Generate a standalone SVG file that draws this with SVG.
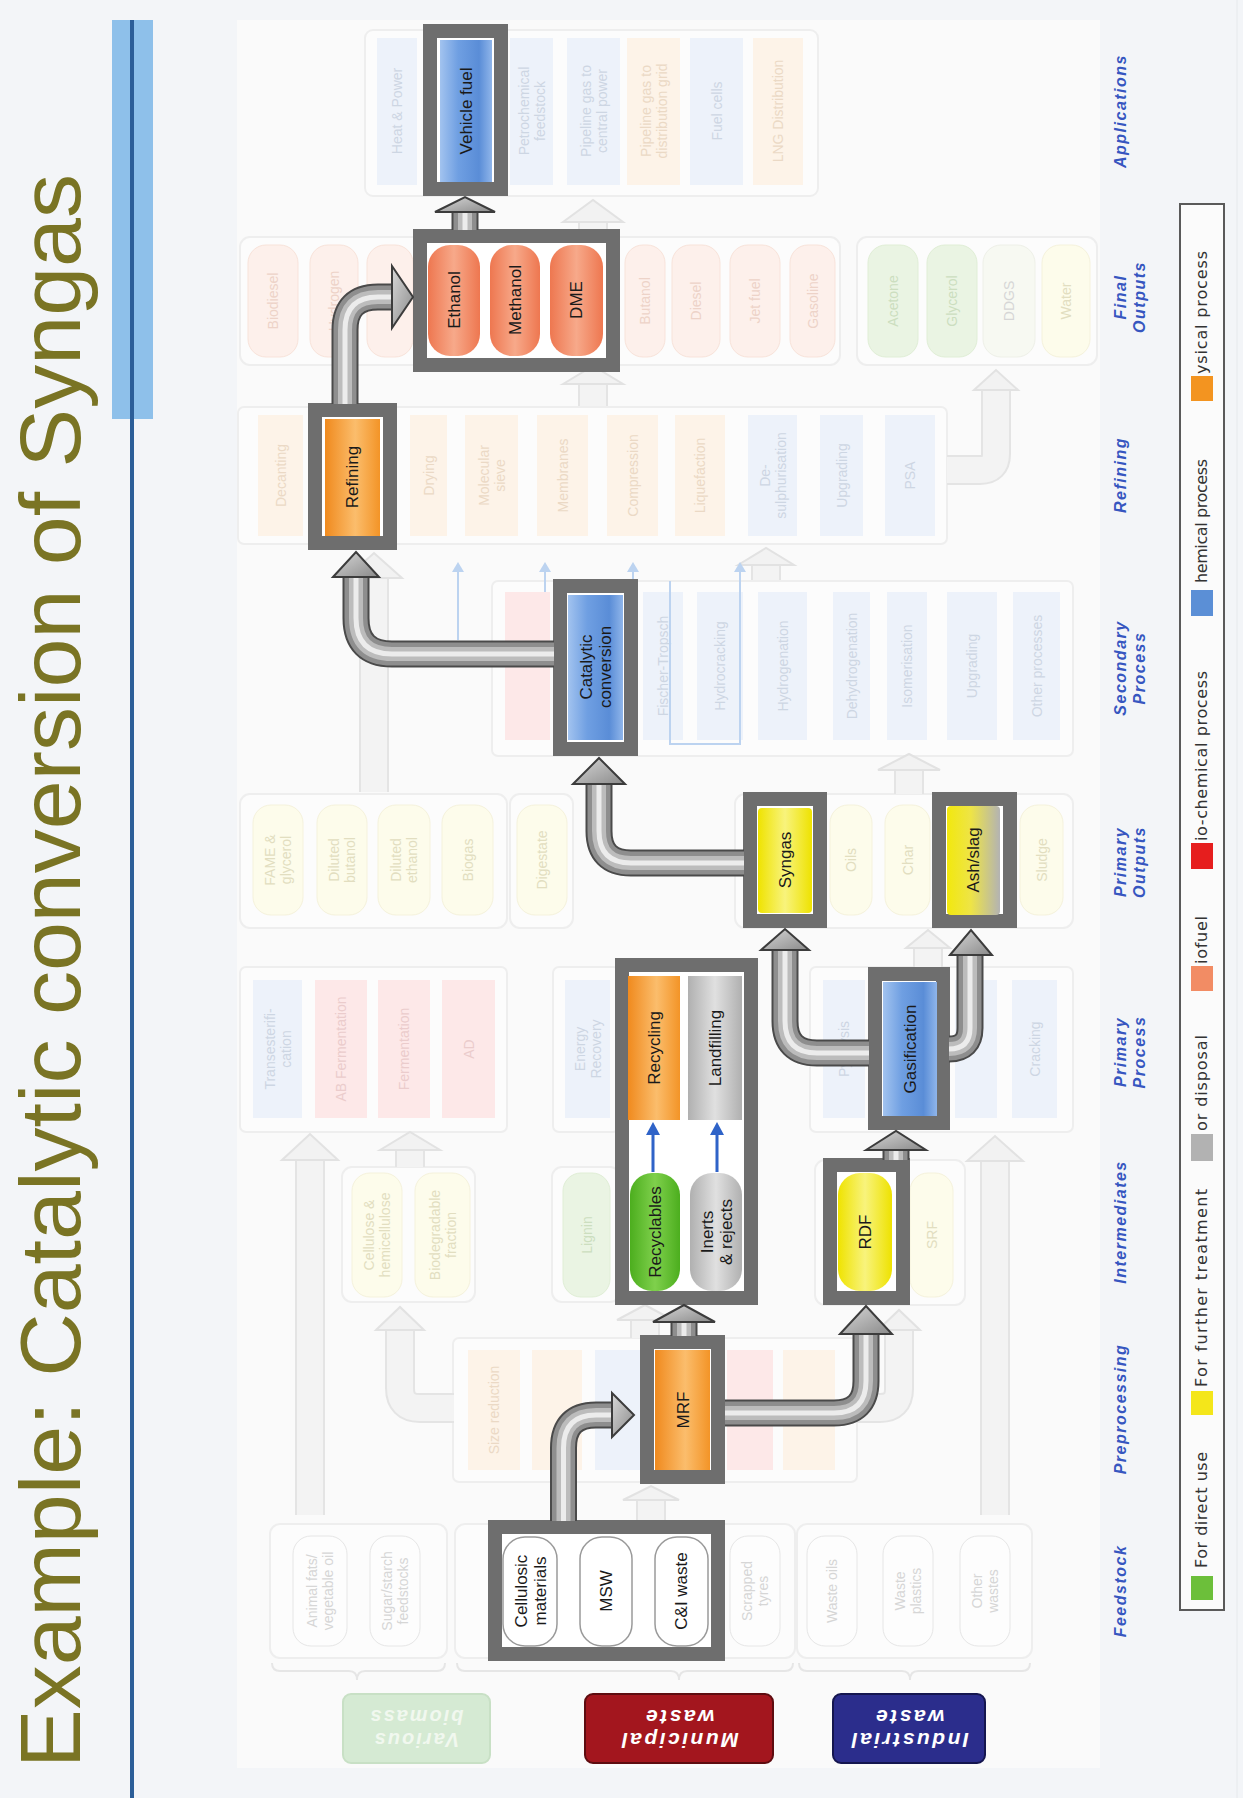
<svg xmlns="http://www.w3.org/2000/svg" width="1243" height="1798" viewBox="0 0 1243 1798">
<defs>
<style>
.frame{fill:#fff;stroke:#6e6e6e;stroke-width:14}
.hl{font-family:"Liberation Sans",Arial,sans-serif;font-size:17px;fill:#1a1a1a;text-anchor:middle}
.ft{font-family:"Liberation Sans",Arial,sans-serif;font-size:14px;text-anchor:middle}
.hdr{font-family:"Liberation Sans",Arial,sans-serif;font-size:16px;font-weight:bold;font-style:italic;fill:#3656c0;letter-spacing:1.5px;text-anchor:middle}
.lg{font-family:"DejaVu Sans",sans-serif;font-size:16px;fill:#333}
.ff{fill:#fcfcfc;stroke:#eeeeee;stroke-width:2}
.fo{fill:#fdf3e8}.fr{fill:#fde8e8}.fb{fill:#edf2fa}
.fy{fill:#fdfceb;stroke:#f5f2dc}.fs{fill:#fdf0eb;stroke:#f8e3da}.fg{fill:#eaf4e3;stroke:#e0eed6}
.fw{fill:#fdfdfd;stroke:#e6e6e6}.fp{fill:#f7f9f2;stroke:#eef0e8}
.to{fill:#ebd9c5}.tr{fill:#ebcccc}.tb{fill:#cdd6e3}.ty{fill:#e2dec0}.ts{fill:#edd3c8}.tg{fill:#ccdebf}.tw{fill:#d6d6d6}
.t0{fill:none;stroke:#4a4a4a;stroke-width:27}
.t1{fill:none;stroke:#8e8e8e;stroke-width:23}
.t2{fill:none;stroke:#bcbcbc;stroke-width:14}
.t3{fill:none;stroke:#ececec;stroke-width:5}
.ah{fill:url(#gHead);stroke:#3c3c3c;stroke-width:2;stroke-linejoin:miter}
.f0{fill:none;stroke:#e4e4e4;stroke-width:30}
.f1{fill:none;stroke:#f3f3f3;stroke-width:26}
.fh{fill:#f2f2f2;stroke:#e2e2e2;stroke-width:2}
.bl{stroke:#2f63c8;stroke-width:3;fill:none}
.fbl{stroke:#bcd3f0;stroke-width:2;fill:none}
</style>
<linearGradient id="gBlue" x1="0" y1="0" x2="1" y2="0"><stop offset="0" stop-color="#a2c3ef"/><stop offset="0.35" stop-color="#6f9fe2"/><stop offset="0.75" stop-color="#5a8dd7"/><stop offset="1" stop-color="#8fb5ea"/></linearGradient>
<linearGradient id="gOrange" x1="0" y1="0" x2="1" y2="0"><stop offset="0" stop-color="#f08a1e"/><stop offset="0.55" stop-color="#fbbd6c"/><stop offset="1" stop-color="#f39427"/></linearGradient>
<linearGradient id="gSalmon" x1="0" y1="0" x2="1" y2="0"><stop offset="0" stop-color="#ee7750"/><stop offset="0.5" stop-color="#f7a98a"/><stop offset="1" stop-color="#ee7750"/></linearGradient>
<linearGradient id="gYellow" x1="0" y1="0" x2="1" y2="0"><stop offset="0" stop-color="#efe300"/><stop offset="0.5" stop-color="#f8f37c"/><stop offset="1" stop-color="#eee200"/></linearGradient>
<linearGradient id="gAsh" x1="0" y1="0" x2="1" y2="0"><stop offset="0" stop-color="#f2e80e"/><stop offset="0.45" stop-color="#eee446"/><stop offset="1" stop-color="#b3b3b3"/></linearGradient>
<linearGradient id="gGray" x1="0" y1="0" x2="1" y2="0"><stop offset="0" stop-color="#b0b0b0"/><stop offset="0.5" stop-color="#e0e0e0"/><stop offset="1" stop-color="#b0b0b0"/></linearGradient>
<linearGradient id="gGreen" x1="0" y1="0" x2="1" y2="0"><stop offset="0" stop-color="#4cae1e"/><stop offset="0.5" stop-color="#7fd04c"/><stop offset="1" stop-color="#4cae1e"/></linearGradient>
<linearGradient id="gHead" x1="0" y1="0" x2="1" y2="1"><stop offset="0" stop-color="#d8d8d8"/><stop offset="1" stop-color="#8a8a8a"/></linearGradient>
<!-- tube centre lines -->
<path id="p1" d="M563.5 1521 V1448 Q563.5 1415 596 1415 H614"/>
<path id="p2" d="M684 1336 V1319"/>
<path id="p3" d="M725 1413 H834 Q866 1413 866 1381 V1332"/>
<path id="p4" d="M896 1160 V1147"/>
<path id="p5" d="M869 1053 H817 Q785 1053 785 1021 V948"/>
<path id="p6" d="M949 1049 Q970 1049 970 1028 V952"/>
<path id="p7" d="M744 863 H631 Q599 863 599 831 V782"/>
<path id="p8" d="M554 654 H392 Q356 654 356 618 V575"/>
<path id="p9" d="M345 404 V330 Q345 297 378 297 H394"/>
<path id="p10" d="M465 230 V210"/>
</defs>

<!-- page -->
<rect x="0" y="0" width="1243" height="1798" fill="#f3f5f8"/>
<rect x="237" y="20" width="863" height="1748" fill="#fafafa"/>
<line x1="1237" y1="0" x2="1237" y2="1798" stroke="#e6e9ec" stroke-width="1"/>

<!-- title and rule -->
<text transform="translate(80,1768) rotate(-90)" font-family="'Liberation Sans',Arial,sans-serif" font-size="86" fill="#7a7424" textLength="1594" lengthAdjust="spacingAndGlyphs">Example: Catalytic conversion of Syngas</text>
<rect x="112" y="20" width="41" height="399" fill="#8ec0ea"/>
<rect x="130" y="20" width="4" height="1778" fill="#2c5e98"/>

<!-- stage headers -->
<g id="headers">
<text class="hdr" transform="translate(1126,111) rotate(-90)">Applications</text>
<text class="hdr" transform="translate(1126,297) rotate(-90)"><tspan x="0" y="0">Final</tspan><tspan x="0" y="19">Outputs</tspan></text>
<text class="hdr" transform="translate(1126,475) rotate(-90)">Refining</text>
<text class="hdr" transform="translate(1126,668) rotate(-90)"><tspan x="0" y="0">Secondary</tspan><tspan x="0" y="19">Process</tspan></text>
<text class="hdr" transform="translate(1126,862) rotate(-90)"><tspan x="0" y="0">Primary</tspan><tspan x="0" y="19">Outputs</tspan></text>
<text class="hdr" transform="translate(1126,1052) rotate(-90)"><tspan x="0" y="0">Primary</tspan><tspan x="0" y="19">Process</tspan></text>
<text class="hdr" transform="translate(1126,1222) rotate(-90)">Intermediates</text>
<text class="hdr" transform="translate(1126,1409) rotate(-90)">Preprocessing</text>
<text class="hdr" transform="translate(1126,1591) rotate(-90)">Feedstock</text>
</g>

<!-- legend -->
<g id="legend">
<rect x="1180" y="204" width="44" height="1406" fill="#fbfbfb" stroke="#5a5a5a" stroke-width="2"/>
<text class="lg" transform="translate(1207,1568) rotate(-90)" textLength="116">For direct use</text>
<text class="lg" transform="translate(1207,1387) rotate(-90)" textLength="198">For further treatment</text>
<text class="lg" transform="translate(1207,1131) rotate(-90)" textLength="96">or disposal</text>
<text class="lg" transform="translate(1207,964) rotate(-90)" textLength="48">iofuel</text>
<text class="lg" transform="translate(1207,841) rotate(-90)" textLength="170">io-chemical process</text>
<text class="lg" transform="translate(1207,583) rotate(-90)" textLength="124">hemical process</text>
<text class="lg" transform="translate(1207,374) rotate(-90)" textLength="123">ysical process</text>
<rect x="1191" y="1576" width="22" height="24" fill="#6cbf3a"/>
<rect x="1191" y="1391" width="22" height="24" fill="#f4e61a"/>
<rect x="1191" y="1134" width="22" height="27" fill="#b2b2b2"/>
<rect x="1191" y="966" width="22" height="25" fill="#f28c64"/>
<rect x="1191" y="843" width="22" height="26" fill="#e61e1e"/>
<rect x="1191" y="590" width="22" height="26" fill="#5b8fd6"/>
<rect x="1191" y="376" width="22" height="25" fill="#f39420"/>
</g>

<!-- feedstock categories -->
<g id="cat-biomass">
<rect x="343" y="1694" width="147" height="69" rx="8" fill="#d5ead3" stroke="#c8e0c5" stroke-width="2"/>
<text transform="translate(416,1728) rotate(180)" font-family="'Liberation Sans',Arial,sans-serif" font-size="20" font-weight="bold" font-style="italic" fill="#f1f8ef" text-anchor="middle" letter-spacing="2"><tspan x="0" y="-5">Various</tspan><tspan x="0" y="18">biomass</tspan></text>
</g>
<g id="cat-municipal">
<rect x="585" y="1694" width="188" height="69" rx="8" fill="#a3161e" stroke="#5e0c10" stroke-width="2"/>
<text transform="translate(679,1728) rotate(180)" font-family="'Liberation Sans',Arial,sans-serif" font-size="21" font-weight="bold" font-style="italic" fill="#ffffff" text-anchor="middle" letter-spacing="2.5"><tspan x="0" y="-5">Municipal</tspan><tspan x="0" y="18">waste</tspan></text>
</g>
<g id="cat-industrial">
<rect x="833" y="1694" width="152" height="69" rx="8" fill="#2b2d8c" stroke="#15164f" stroke-width="2"/>
<text transform="translate(909,1728) rotate(180)" font-family="'Liberation Sans',Arial,sans-serif" font-size="21" font-weight="bold" font-style="italic" fill="#ffffff" text-anchor="middle" letter-spacing="2.5"><tspan x="0" y="-5">Industrial</tspan><tspan x="0" y="18">waste</tspan></text>
</g>
<g id="braces" fill="none" stroke="#e6e6e6" stroke-width="2">
<path d="M272 1663 Q272 1671 280 1671 H349 Q357 1671 357 1680 Q357 1671 365 1671 H437 Q445 1671 445 1663"/>
<path d="M457 1663 Q457 1671 465 1671 H671 Q679 1671 679 1680 Q679 1671 687 1671 H785 Q793 1671 793 1663"/>
<path d="M799 1663 Q799 1671 807 1671 H902 Q910 1671 910 1680 Q910 1671 918 1671 H1022 Q1030 1671 1030 1663"/>
</g>

<!-- background pathway (faded) -->
<g id="faded">
<!-- frames -->
<rect class="ff" x="365" y="30" width="453" height="166" rx="8"/>
<rect class="ff" x="240" y="237" width="600" height="128" rx="10"/>
<rect class="ff" x="857" y="237" width="240" height="128" rx="10"/>
<rect class="ff" x="238" y="407" width="709" height="137" rx="6"/>
<rect class="ff" x="492" y="581" width="581" height="175" rx="6"/>
<rect class="ff" x="240" y="794" width="267" height="134" rx="10"/>
<rect class="ff" x="510" y="794" width="63" height="134" rx="10"/>
<rect class="ff" x="735" y="794" width="338" height="134" rx="10"/>
<rect class="ff" x="240" y="967" width="267" height="165" rx="6"/>
<rect class="ff" x="553" y="967" width="66" height="165" rx="6"/>
<rect class="ff" x="810" y="967" width="263" height="165" rx="6"/>
<rect class="ff" x="342" y="1167" width="133" height="135" rx="10"/>
<rect class="ff" x="552" y="1167" width="68" height="135" rx="10"/>
<rect class="ff" x="815" y="1160" width="150" height="145" rx="10"/>
<rect class="ff" x="453" y="1338" width="404" height="144" rx="6"/>
<rect class="ff" x="270" y="1524" width="177" height="134" rx="10"/>
<rect class="ff" x="455" y="1524" width="340" height="134" rx="10"/>
<rect class="ff" x="797" y="1524" width="235" height="134" rx="10"/>

<!-- applications -->
<rect class="fb" x="377" y="38" width="40" height="147"/>
<text class="ft tb" transform="translate(397,111) rotate(-90)" y="5">Heat &amp; Power</text>
<rect class="fb" x="510" y="38" width="43" height="147"/>
<text class="ft tb" transform="translate(531.5,111) rotate(-90)"><tspan x="0" y="-3">Petrochemical</tspan><tspan x="0" y="13">feedstock</tspan></text>
<rect class="fb" x="567" y="38" width="53" height="147"/>
<text class="ft tb" transform="translate(593.5,111) rotate(-90)"><tspan x="0" y="-3">Pipeline gas to</tspan><tspan x="0" y="13">central power</tspan></text>
<rect class="fo" x="627" y="38" width="53" height="147"/>
<text class="ft to" transform="translate(653.5,111) rotate(-90)"><tspan x="0" y="-3">Pipeline gas to</tspan><tspan x="0" y="13">distribution grid</tspan></text>
<rect class="fb" x="690" y="38" width="53" height="147"/>
<text class="ft tb" transform="translate(716.5,111) rotate(-90)" y="5">Fuel cells</text>
<rect class="fo" x="753" y="38" width="50" height="147"/>
<text class="ft to" transform="translate(778,111) rotate(-90)" y="5">LNG Distribution</text>

<!-- final outputs -->
<rect class="fs" x="248" y="245" width="50" height="112" rx="18"/>
<text class="ft ts" transform="translate(273,301) rotate(-90)" y="5">Biodiesel</text>
<rect class="fs" x="310" y="245" width="48" height="112" rx="18"/>
<text class="ft ts" transform="translate(334,301) rotate(-90)" y="5">Hydrogen</text>
<rect class="fs" x="367" y="245" width="46" height="112" rx="18"/>
<rect class="fs" x="625" y="245" width="40" height="112" rx="18"/>
<text class="ft ts" transform="translate(645,301) rotate(-90)" y="5">Butanol</text>
<rect class="fs" x="672" y="245" width="48" height="112" rx="18"/>
<text class="ft ts" transform="translate(696,301) rotate(-90)" y="5">Diesel</text>
<rect class="fs" x="730" y="245" width="50" height="112" rx="18"/>
<text class="ft ts" transform="translate(755,301) rotate(-90)" y="5">Jet fuel</text>
<rect class="fs" x="790" y="245" width="45" height="112" rx="18"/>
<text class="ft ts" transform="translate(812.5,301) rotate(-90)" y="5">Gasoline</text>
<rect class="fg" x="868" y="245" width="50" height="112" rx="18"/>
<text class="ft tg" transform="translate(893,301) rotate(-90)" y="5">Acetone</text>
<rect class="fg" x="927" y="245" width="50" height="112" rx="18"/>
<text class="ft tg" transform="translate(952,301) rotate(-90)" y="5">Glycerol</text>
<rect class="fp" x="983" y="245" width="52" height="112" rx="18"/>
<text class="ft tw" transform="translate(1009,301) rotate(-90)" y="5">DDGS</text>
<rect class="fy" x="1042" y="245" width="48" height="112" rx="18"/>
<text class="ft ty" transform="translate(1066,301) rotate(-90)" y="5">Water</text>

<!-- refining -->
<rect class="fo" x="258" y="415" width="45" height="121"/>
<text class="ft to" transform="translate(280.5,475.5) rotate(-90)" y="5">Decanting</text>
<rect class="fo" x="410" y="415" width="37" height="121"/>
<text class="ft to" transform="translate(428.5,475.5) rotate(-90)" y="5">Drying</text>
<rect class="fo" x="465" y="415" width="53" height="121"/>
<text class="ft to" transform="translate(491.5,475.5) rotate(-90)"><tspan x="0" y="-3">Molecular</tspan><tspan x="0" y="13">sieve</tspan></text>
<rect class="fo" x="537" y="415" width="51" height="121"/>
<text class="ft to" transform="translate(562.5,475.5) rotate(-90)" y="5">Membranes</text>
<rect class="fo" x="607" y="415" width="51" height="121"/>
<text class="ft to" transform="translate(632.5,475.5) rotate(-90)" y="5">Compression</text>
<rect class="fo" x="675" y="415" width="50" height="121"/>
<text class="ft to" transform="translate(700,475.5) rotate(-90)" y="5">Liquefaction</text>
<rect class="fb" x="748" y="415" width="49" height="121"/>
<text class="ft tb" transform="translate(772.5,475.5) rotate(-90)"><tspan x="0" y="-3">De-</tspan><tspan x="0" y="13">sulphurisation</tspan></text>
<rect class="fb" x="820" y="415" width="43" height="121"/>
<text class="ft tb" transform="translate(841.5,475.5) rotate(-90)" y="5">Upgrading</text>
<rect class="fb" x="885" y="415" width="50" height="121"/>
<text class="ft tb" transform="translate(910,475.5) rotate(-90)" y="5">PSA</text>

<!-- secondary process -->
<rect class="fr" x="505" y="592" width="45" height="148"/>
<rect class="fb" x="643" y="592" width="40" height="148"/>
<text class="ft tb" transform="translate(663,666) rotate(-90)" y="5">Fischer-Tropsch</text>
<rect class="fb" x="697" y="592" width="46" height="148"/>
<text class="ft tb" transform="translate(720,666) rotate(-90)" y="5">Hydrocracking</text>
<rect class="fb" x="758" y="592" width="49" height="148"/>
<text class="ft tb" transform="translate(782.5,666) rotate(-90)" y="5">Hydrogenation</text>
<rect class="fb" x="833" y="592" width="37" height="148"/>
<text class="ft tb" transform="translate(851.5,666) rotate(-90)" y="5">Dehydrogenation</text>
<rect class="fb" x="887" y="592" width="40" height="148"/>
<text class="ft tb" transform="translate(907,666) rotate(-90)" y="5">Isomerisation</text>
<rect class="fb" x="947" y="592" width="50" height="148"/>
<text class="ft tb" transform="translate(972,666) rotate(-90)" y="5">Upgrading</text>
<rect class="fb" x="1013" y="592" width="47" height="148"/>
<text class="ft tb" transform="translate(1036.5,666) rotate(-90)" y="5">Other processes</text>

<!-- primary outputs -->
<rect class="fy" x="253" y="805" width="50" height="110" rx="18"/>
<text class="ft ty" transform="translate(278,860) rotate(-90)"><tspan x="0" y="-3">FAME &amp;</tspan><tspan x="0" y="13">glycerol</tspan></text>
<rect class="fy" x="317" y="805" width="50" height="110" rx="18"/>
<text class="ft ty" transform="translate(342,860) rotate(-90)"><tspan x="0" y="-3">Diluted</tspan><tspan x="0" y="13">butanol</tspan></text>
<rect class="fy" x="378" y="805" width="52" height="110" rx="18"/>
<text class="ft ty" transform="translate(404,860) rotate(-90)"><tspan x="0" y="-3">Diluted</tspan><tspan x="0" y="13">ethanol</tspan></text>
<rect class="fy" x="442" y="805" width="51" height="110" rx="18"/>
<text class="ft ty" transform="translate(467.5,860) rotate(-90)" y="5">Biogas</text>
<rect class="fy" x="517" y="805" width="50" height="110" rx="18"/>
<text class="ft ty" transform="translate(542,860) rotate(-90)" y="5">Digestate</text>
<rect class="fy" x="830" y="805" width="42" height="110" rx="18"/>
<text class="ft ty" transform="translate(851,860) rotate(-90)" y="5">Oils</text>
<rect class="fy" x="885" y="805" width="45" height="110" rx="18"/>
<text class="ft ty" transform="translate(907.5,860) rotate(-90)" y="5">Char</text>
<rect class="fy" x="1020" y="805" width="43" height="110" rx="18"/>
<text class="ft ty" transform="translate(1041.5,860) rotate(-90)" y="5">Sludge</text>

<!-- primary process -->
<rect class="fb" x="253" y="980" width="49" height="138"/>
<text class="ft tb" transform="translate(277.5,1049) rotate(-90)"><tspan x="0" y="-3">Transesterifi-</tspan><tspan x="0" y="13">cation</tspan></text>
<rect class="fr" x="315" y="980" width="52" height="138"/>
<text class="ft tr" transform="translate(341,1049) rotate(-90)" y="5">AB Fermentation</text>
<rect class="fr" x="378" y="980" width="52" height="138"/>
<text class="ft tr" transform="translate(404,1049) rotate(-90)" y="5">Fermentation</text>
<rect class="fr" x="442" y="980" width="53" height="138"/>
<text class="ft tr" transform="translate(468.5,1049) rotate(-90)" y="5">AD</text>
<rect class="fb" x="565" y="980" width="45" height="138"/>
<text class="ft tb" transform="translate(587.5,1049) rotate(-90)"><tspan x="0" y="-3">Energy</tspan><tspan x="0" y="13">Recovery</tspan></text>
<rect class="fb" x="823" y="980" width="42" height="138"/>
<text class="ft tb" transform="translate(844,1049) rotate(-90)" y="5">Pyrolysis</text>
<rect class="fb" x="955" y="980" width="42" height="138"/>
<rect class="fb" x="1012" y="980" width="45" height="138"/>
<text class="ft tb" transform="translate(1034.5,1049) rotate(-90)" y="5">Cracking</text>

<!-- intermediates -->
<rect class="fy" x="352" y="1173" width="50" height="124" rx="18"/>
<text class="ft ty" transform="translate(377,1235) rotate(-90)"><tspan x="0" y="-3">Cellulose &amp;</tspan><tspan x="0" y="13">hemicellulose</tspan></text>
<rect class="fy" x="415" y="1173" width="55" height="124" rx="18"/>
<text class="ft ty" transform="translate(442.5,1235) rotate(-90)"><tspan x="0" y="-3">Biodegradable</tspan><tspan x="0" y="13">fraction</tspan></text>
<rect class="fg" x="563" y="1173" width="47" height="124" rx="18"/>
<text class="ft tg" transform="translate(586.5,1235) rotate(-90)" y="5">Lignin</text>
<rect class="fy" x="910" y="1173" width="43" height="124" rx="18"/>
<text class="ft ty" transform="translate(931.5,1235) rotate(-90)" y="5">SRF</text>

<!-- preprocessing -->
<rect class="fo" x="468" y="1350" width="52" height="120"/>
<text class="ft to" transform="translate(494,1410) rotate(-90)" y="5">Size reduction</text>
<rect class="fo" x="532" y="1350" width="50" height="120"/>
<rect class="fb" x="595" y="1350" width="45" height="120"/>
<rect class="fr" x="727" y="1350" width="46" height="120"/>
<rect class="fo" x="783" y="1350" width="52" height="120"/>

<!-- feedstock -->
<rect class="fw" x="293" y="1536" width="54" height="110" rx="18"/>
<text class="ft tw" transform="translate(320,1591) rotate(-90)"><tspan x="0" y="-3">Animal fats/</tspan><tspan x="0" y="13">vegetable oil</tspan></text>
<rect class="fw" x="370" y="1536" width="50" height="110" rx="18"/>
<text class="ft tw" transform="translate(395,1591) rotate(-90)"><tspan x="0" y="-3">Sugar/starch</tspan><tspan x="0" y="13">feedstocks</tspan></text>
<rect class="fw" x="730" y="1536" width="50" height="110" rx="18"/>
<text class="ft tw" transform="translate(755,1591) rotate(-90)"><tspan x="0" y="-3">Scrapped</tspan><tspan x="0" y="13">tyres</tspan></text>
<rect class="fw" x="807" y="1536" width="50" height="110" rx="18"/>
<text class="ft tw" transform="translate(832,1591) rotate(-90)" y="5">Waste oils</text>
<rect class="fw" x="883" y="1536" width="50" height="110" rx="18"/>
<text class="ft tw" transform="translate(908,1591) rotate(-90)"><tspan x="0" y="-3">Waste</tspan><tspan x="0" y="13">plastics</tspan></text>
<rect class="fw" x="960" y="1536" width="50" height="110" rx="18"/>
<text class="ft tw" transform="translate(985,1591) rotate(-90)"><tspan x="0" y="-3">Other</tspan><tspan x="0" y="13">wastes</tspan></text>

<!-- faded block arrows -->
<path class="f0" d="M593 236 V218"/><path class="f1" d="M593 236 V218"/><polygon class="fh" points="563,222 593,200 623,222"/>
<path class="f0" d="M593 406 V380"/><path class="f1" d="M593 406 V380"/><polygon class="fh" points="563,384 593,366 623,384"/>
<path class="f0" d="M766 580 V562"/><path class="f1" d="M766 580 V562"/><polygon class="fh" points="738,565 766,548 794,565"/>
<path class="f0" d="M947 470 H980 Q996 470 996 454 V386"/><path class="f1" d="M947 470 H980 Q996 470 996 454 V386"/><polygon class="fh" points="974,390 996,370 1018,390"/>
<path class="f0" d="M374 792 V574"/><path class="f1" d="M374 792 V574"/><polygon class="fh" points="346,578 374,553 402,578"/>
<path class="f0" d="M909 794 V766"/><path class="f1" d="M909 794 V766"/><polygon class="fh" points="878,770 909,754 940,770"/>
<path class="f0" d="M928 967 V944"/><path class="f1" d="M928 967 V944"/><polygon class="fh" points="906,948 928,930 950,948"/>
<path class="f0" d="M310 1515 V1156"/><path class="f1" d="M310 1515 V1156"/><polygon class="fh" points="282,1160 310,1134 338,1160"/>
<path class="f0" d="M410 1167 V1146"/><path class="f1" d="M410 1167 V1146"/><polygon class="fh" points="380,1150 410,1132 440,1150"/>
<path class="f0" d="M454 1408 H420 Q400 1408 400 1388 V1326"/><path class="f1" d="M454 1408 H420 Q400 1408 400 1388 V1326"/><polygon class="fh" points="376,1330 400,1307 424,1330"/>
<path class="f0" d="M651 1521 V1496"/><path class="f1" d="M651 1521 V1496"/><polygon class="fh" points="623,1500 651,1486 679,1500"/>
<path class="f0" d="M645 1338 V1316"/><path class="f1" d="M645 1338 V1316"/><polygon class="fh" points="617,1320 645,1305 673,1320"/>
<path class="f0" d="M857 1408 H880 Q899 1408 899 1389 V1326"/><path class="f1" d="M857 1408 H880 Q899 1408 899 1389 V1326"/><polygon class="fh" points="878,1330 899,1310 920,1330"/>
<path class="f0" d="M995 1515 V1157"/><path class="f1" d="M995 1515 V1157"/><polygon class="fh" points="967,1161 995,1136 1023,1161"/>

<!-- faded thin arrows -->
<path class="fbl" d="M458 570 V640 M545 570 V592 M633 570 V581 M740 570 V744 H670 V581"/>
<g fill="#bcd3f0">
<polygon points="452,572 458,562 464,572"/><polygon points="539,572 545,562 551,572"/>
<polygon points="627,572 633,562 639,572"/><polygon points="734,572 740,562 746,572"/>
</g>
</g>

<!-- highlighted pathway nodes -->
<g id="node-vehicle-fuel">
<rect class="frame" x="430" y="31" width="71" height="158"/>
<rect x="440" y="40" width="52" height="142" fill="url(#gBlue)"/>
<text class="hl" transform="translate(466,111) rotate(-90)" y="6">Vehicle fuel</text>
</g>
<g id="node-fuels">
<rect class="frame" x="420" y="236" width="193" height="129"/>
<rect x="428" y="245" width="52" height="111" rx="22" fill="url(#gSalmon)"/>
<rect x="490" y="245" width="50" height="111" rx="22" fill="url(#gSalmon)"/>
<rect x="550" y="245" width="53" height="111" rx="22" fill="url(#gSalmon)"/>
<text class="hl" transform="translate(454,300) rotate(-90)" y="6">Ethanol</text>
<text class="hl" transform="translate(515,300) rotate(-90)" y="6">Methanol</text>
<text class="hl" transform="translate(576,300) rotate(-90)" y="6">DME</text>
</g>
<g id="node-refining">
<rect class="frame" x="315" y="410" width="75" height="133"/>
<rect x="325" y="419" width="55" height="117" fill="url(#gOrange)"/>
<text class="hl" transform="translate(352,477) rotate(-90)" y="6">Refining</text>
</g>
<g id="node-catalytic">
<rect class="frame" x="560" y="586" width="71" height="163"/>
<rect x="568" y="595" width="55" height="145" fill="url(#gBlue)"/>
<text class="hl" transform="translate(595,667) rotate(-90)"><tspan x="0" y="-3">Catalytic</tspan><tspan x="0" y="16">conversion</tspan></text>
</g>
<g id="node-syngas">
<rect class="frame" x="750" y="799" width="70" height="122"/>
<rect x="758" y="808" width="54" height="105" rx="4" fill="url(#gYellow)"/>
<text class="hl" transform="translate(785,860) rotate(-90)" y="6">Syngas</text>
</g>
<g id="node-ashslag">
<rect class="frame" x="939" y="799" width="71" height="122"/>
<rect x="947" y="806" width="53" height="109" rx="4" fill="url(#gAsh)"/>
<text class="hl" transform="translate(973,860) rotate(-90)" y="6">Ash/slag</text>
</g>
<g id="node-gasification">
<rect class="frame" x="875" y="974" width="68" height="149"/>
<rect x="883" y="982" width="54" height="134" fill="url(#gBlue)"/>
<text class="hl" transform="translate(910,1049) rotate(-90)" y="6">Gasification</text>
</g>
<g id="node-recycling-landfill">
<rect class="frame" x="622" y="965" width="129" height="333"/>
<rect x="628" y="976" width="52" height="144" fill="url(#gOrange)"/>
<rect x="688" y="976" width="54" height="144" fill="url(#gGray)"/>
<rect x="630" y="1173" width="50" height="118" rx="22" fill="url(#gGreen)"/>
<rect x="690" y="1173" width="52" height="118" rx="22" fill="url(#gGray)"/>
<path class="bl" d="M653 1172 V1133 M717 1172 V1133"/>
<polygon points="646,1135 653,1122 660,1135" fill="#2f63c8"/>
<polygon points="710,1135 717,1122 724,1135" fill="#2f63c8"/>
<text class="hl" transform="translate(654,1048) rotate(-90)" y="6">Recycling</text>
<text class="hl" transform="translate(715,1048) rotate(-90)" y="6">Landfilling</text>
<text class="hl" transform="translate(655,1232) rotate(-90)" y="6">Recyclables</text>
<text class="hl" transform="translate(716,1232) rotate(-90)"><tspan x="0" y="-3">Inerts</tspan><tspan x="0" y="16">&amp; rejects</tspan></text>
</g>
<g id="node-rdf">
<rect class="frame" x="830" y="1165" width="73" height="133"/>
<rect x="838" y="1173" width="54" height="118" rx="22" fill="url(#gYellow)"/>
<text class="hl" transform="translate(865,1232) rotate(-90)" y="6">RDF</text>
</g>
<g id="node-mrf">
<rect class="frame" x="647" y="1342" width="71" height="135"/>
<rect x="655" y="1350" width="55" height="120" fill="url(#gOrange)"/>
<text class="hl" transform="translate(683,1410) rotate(-90)" y="6">MRF</text>
</g>
<g id="node-feedstock">
<rect class="frame" x="495" y="1527" width="223" height="127"/>
<rect x="503" y="1537" width="54" height="109" rx="22" fill="#fff" stroke="#9a9a9a" stroke-width="1.5"/>
<rect x="580" y="1537" width="52" height="109" rx="22" fill="#fff" stroke="#9a9a9a" stroke-width="1.5"/>
<rect x="655" y="1537" width="53" height="109" rx="22" fill="#fff" stroke="#9a9a9a" stroke-width="1.5"/>
<text class="hl" transform="translate(530,1591) rotate(-90)"><tspan x="0" y="-3">Cellulosic</tspan><tspan x="0" y="16">materials</tspan></text>
<text class="hl" transform="translate(606,1591) rotate(-90)" y="6">MSW</text>
<text class="hl" transform="translate(681,1591) rotate(-90)" y="6">C&amp;I waste</text>
</g>

<!-- connectors -->
<g id="connectors">
<use href="#p1" class="t0"/><use href="#p1" class="t1"/><use href="#p1" class="t2"/><use href="#p1" class="t3"/>
<use href="#p2" class="t0"/><use href="#p2" class="t1"/><use href="#p2" class="t2"/><use href="#p2" class="t3"/>
<use href="#p3" class="t0"/><use href="#p3" class="t1"/><use href="#p3" class="t2"/><use href="#p3" class="t3"/>
<use href="#p4" class="t0"/><use href="#p4" class="t1"/><use href="#p4" class="t2"/><use href="#p4" class="t3"/>
<use href="#p5" class="t0"/><use href="#p5" class="t1"/><use href="#p5" class="t2"/><use href="#p5" class="t3"/>
<use href="#p6" class="t0"/><use href="#p6" class="t1"/><use href="#p6" class="t2"/><use href="#p6" class="t3"/>
<use href="#p7" class="t0"/><use href="#p7" class="t1"/><use href="#p7" class="t2"/><use href="#p7" class="t3"/>
<use href="#p8" class="t0"/><use href="#p8" class="t1"/><use href="#p8" class="t2"/><use href="#p8" class="t3"/>
<use href="#p9" class="t0"/><use href="#p9" class="t1"/><use href="#p9" class="t2"/><use href="#p9" class="t3"/>
<use href="#p10" class="t0"/><use href="#p10" class="t1"/><use href="#p10" class="t2"/><use href="#p10" class="t3"/>
<polygon class="ah" points="612,1393 634,1415 612,1437"/>
<polygon class="ah" points="653,1322 684,1305 715,1322"/>
<polygon class="ah" points="840,1334 866,1306 892,1334"/>
<polygon class="ah" points="866,1150 896,1131 926,1150"/>
<polygon class="ah" points="761,950 785,929 809,950"/>
<polygon class="ah" points="950,955 971,930 992,955"/>
<polygon class="ah" points="573,784 599,758 625,784"/>
<polygon class="ah" points="333,577 356,552 379,577"/>
<polygon class="ah" points="392,266 413,297 392,328"/>
<polygon class="ah" points="435,212 465,197 495,212"/>
</g>
</svg>
